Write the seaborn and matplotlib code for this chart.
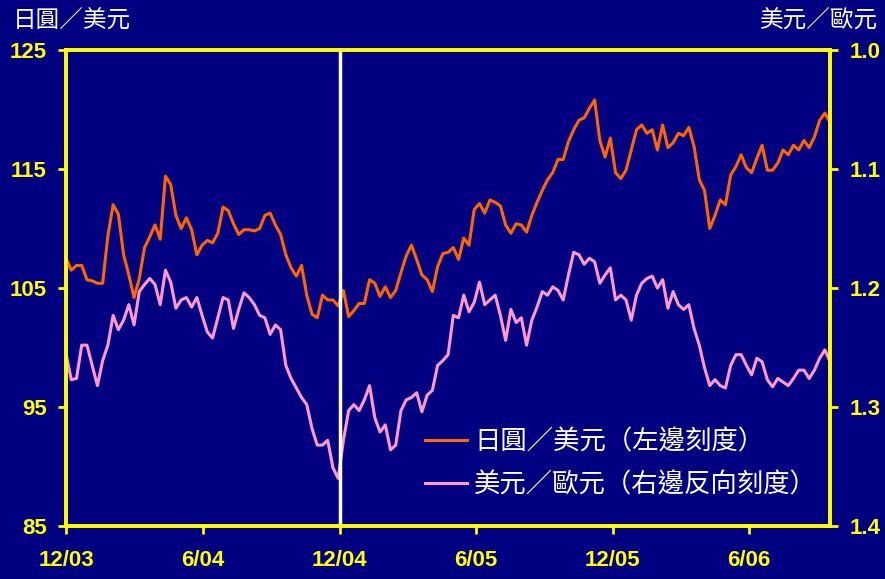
import pandas as pd
import matplotlib
matplotlib.use("Agg")
import matplotlib.pyplot as plt
import seaborn as sns

# weekly readings, starting 1 Dec 2003
start_date = "2003-12-01"

jpy_per_usd = [
    107.5, 106.5, 106.9, 106.9, 105.7, 105.6, 105.4, 105.4, 109.4, 112.0,
    111.2, 107.8, 106.1, 104.2, 105.8, 108.4, 109.3, 110.3, 109.1, 114.4,
    113.7, 111.1, 110.0, 110.9, 109.9, 107.8, 108.6, 109.0, 108.8, 109.6,
    111.8, 111.5, 110.4, 109.5, 109.9, 109.9, 109.8, 110.0, 111.1, 111.3,
    110.3, 109.5, 107.8, 106.7, 106.0, 106.9, 104.4, 102.8, 102.5, 104.4,
    104.0, 104.0, 103.5, 104.8, 102.6, 103.1, 103.7, 103.7, 105.7, 105.4,
    104.3, 105.1, 104.2, 104.8, 106.3, 107.7, 108.6, 107.4, 106.1, 105.7,
    104.7, 106.8, 107.9, 108.0, 108.4, 107.4, 109.2, 108.6, 111.6, 112.1,
    111.3, 112.4, 112.2, 111.9, 110.3, 109.6, 110.4, 110.3, 109.7, 111.1,
    112.2, 113.2, 114.1, 114.7, 115.8, 115.8, 117.3, 118.3, 119.1, 119.3,
    120.1, 120.8, 117.4, 116.0, 117.6, 114.7, 114.2, 114.9, 116.6, 118.3,
    118.7, 118.0, 118.3, 116.6, 118.7, 116.8, 117.2, 118.0, 117.8, 118.5,
    116.9, 114.1, 113.2, 110.0, 111.1, 112.4, 112.0, 114.5, 115.2, 116.2,
    115.1, 114.7, 115.9, 117.0, 114.9, 114.9, 115.5, 116.6, 116.2, 117.0,
    116.6, 117.4, 116.8, 117.7, 119.1, 119.7, 118.9,
]

usd_per_eur = [
    1.255, 1.277, 1.276, 1.248, 1.248, 1.265, 1.282, 1.261, 1.248, 1.223,
    1.235, 1.227, 1.214, 1.231, 1.203, 1.197, 1.192, 1.197, 1.214, 1.185,
    1.195, 1.217, 1.210, 1.208, 1.216, 1.208, 1.223, 1.237, 1.242, 1.225,
    1.208, 1.210, 1.234, 1.218, 1.204, 1.208, 1.214, 1.223, 1.225, 1.239,
    1.231, 1.235, 1.265, 1.276, 1.284, 1.292, 1.298, 1.318, 1.332, 1.332,
    1.328, 1.351, 1.360, 1.328, 1.303, 1.298, 1.303, 1.294, 1.282, 1.309,
    1.321, 1.315, 1.336, 1.332, 1.303, 1.294, 1.292, 1.288, 1.304, 1.290,
    1.286, 1.265, 1.261, 1.256, 1.223, 1.225, 1.206, 1.220, 1.212, 1.195,
    1.214, 1.210, 1.206, 1.223, 1.244, 1.218, 1.229, 1.225, 1.248, 1.227,
    1.216, 1.203, 1.206, 1.199, 1.202, 1.210, 1.189, 1.170, 1.172, 1.180,
    1.175, 1.178, 1.196, 1.189, 1.183, 1.210, 1.206, 1.210, 1.227, 1.206,
    1.196, 1.192, 1.190, 1.200, 1.193, 1.217, 1.203, 1.214, 1.218, 1.214,
    1.234, 1.248, 1.267, 1.282, 1.277, 1.282, 1.284, 1.265, 1.256, 1.256,
    1.265, 1.273, 1.259, 1.262, 1.277, 1.283, 1.276, 1.279, 1.282, 1.276,
    1.269, 1.269, 1.276, 1.269, 1.259, 1.252, 1.262,
]

tick_dates = ["2003-12-01", "2004-06-01", "2004-12-01",
              "2005-06-01", "2005-12-01", "2006-06-01"]
tick_labels = ["12/03", "6/04", "12/04", "6/05", "12/05", "6/06"]
marker_date = "2004-12-01"

left_ticks = [85, 95, 105, 115, 125]
right_ticks = [1.0, 1.1, 1.2, 1.3, 1.4]

left_title = "日圓／美元"
right_title = "美元／歐元"
jpy_label = "日圓／美元（左邊刻度）"
eur_label = "美元／歐元（右邊反向刻度）"

NAVY = "#000080"
YELLOW = "#FFFF00"
ORANGE = "#FF6600"
PINK = "#FF99CC"
CJK = ["Noto Sans CJK TC", "DejaVu Sans"]

df = pd.DataFrame({
    "date": pd.date_range(start_date, periods=len(jpy_per_usd), freq="7D"),
    "jpy": jpy_per_usd,
    "eur": usd_per_eur,
})

fig = plt.figure(figsize=(8.85, 5.79), dpi=100, facecolor=NAVY)
ax_eur = fig.add_axes([0.0746, 0.0915, 0.8634, 0.8221])
ax_eur.set_facecolor(NAVY)

# pink series first so the orange one sits over it
sns.lineplot(data=df, x="date", y="eur", ax=ax_eur, color=PINK, lw=2.2,
             label=eur_label, legend=False)
ax_jpy = ax_eur.twinx()
sns.lineplot(data=df, x="date", y="jpy", ax=ax_jpy, color=ORANGE, lw=2.2,
             label=jpy_label, legend=False)
ax_jpy.axvline(pd.Timestamp(marker_date), color="white", lw=2.5)

# left axis = yen, right axis = euro (inverted)
ax_jpy.yaxis.tick_left()
ax_jpy.yaxis.set_label_position("left")
ax_eur.yaxis.tick_right()
ax_eur.yaxis.set_label_position("right")

ax_jpy.set_ylim(85, 125)
ax_jpy.set_yticks(left_ticks)
ax_jpy.set_yticklabels([str(v) for v in left_ticks])
ax_eur.set_ylim(1.4, 1.0)
ax_eur.set_yticks(right_ticks)
ax_eur.set_yticklabels([f"{v:.1f}" for v in right_ticks])

ax_eur.set_xlim(df["date"].iloc[0], df["date"].iloc[-1])
ax_eur.set_xticks(pd.to_datetime(tick_dates))
ax_eur.set_xticklabels(tick_labels)

for a in (ax_eur, ax_jpy):
    a.set_xlabel("")
    a.set_ylabel("")
    for sp in a.spines.values():
        sp.set_color(YELLOW)
        sp.set_linewidth(2.6)
    a.tick_params(colors=YELLOW, width=2.0, length=6, labelsize=16)
    for lab in a.get_xticklabels() + a.get_yticklabels():
        lab.set_fontfamily("Liberation Sans")
        lab.set_fontweight("bold")
        lab.set_color(YELLOW)

ax_eur.tick_params(axis="x", pad=11)
ax_eur.tick_params(axis="y", pad=8)
ax_jpy.tick_params(axis="y", pad=8)

fig.text(13 / 885, 1 - 21 / 579, left_title, color="white", fontsize=17,
         family=CJK, ha="left", va="center")
fig.text(878 / 885, 1 - 21 / 579, right_title, color="white", fontsize=17,
         family=CJK, ha="right", va="center")

handles = ax_jpy.get_lines()[:1] + ax_eur.get_lines()[:1]
leg = ax_jpy.legend(handles, [jpy_label, eur_label], loc="upper left",
                    bbox_to_anchor=(0.47, 0.205), frameon=False,
                    borderaxespad=0, borderpad=0, handlelength=1.6,
                    handletextpad=0.25, labelspacing=0.6,
                    prop={"family": CJK, "size": 19})
for t in leg.get_texts():
    t.set_color("white")

fig.savefig("out.png", dpi=100, facecolor=NAVY)
